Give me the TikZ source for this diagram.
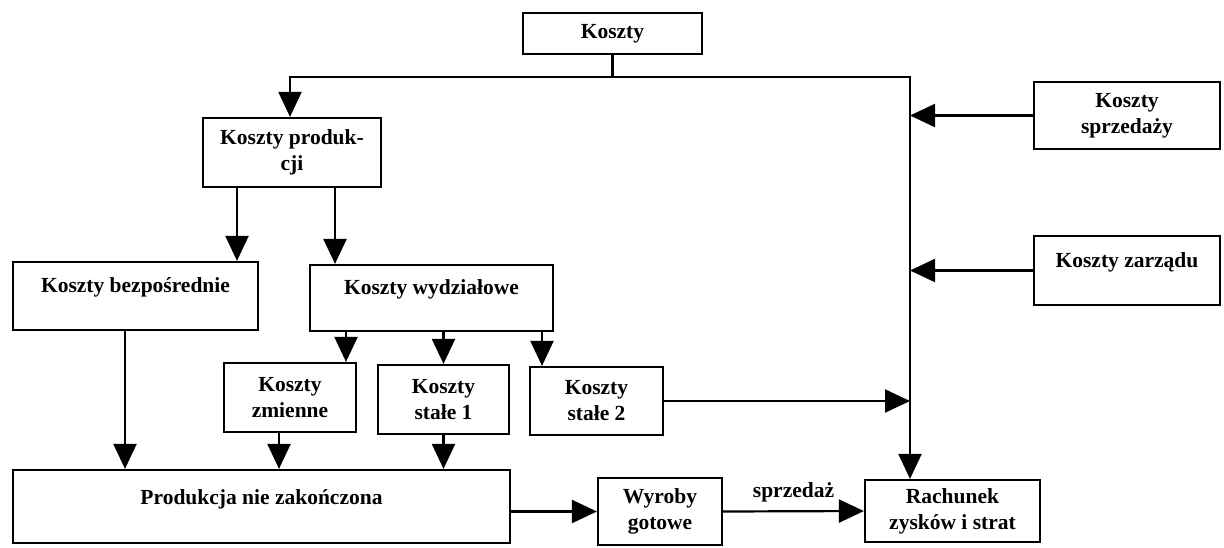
\documentclass[tikz,border=0pt]{standalone}
\usepackage{fontspec}
\setmainfont{Liberation Serif}
\usetikzlibrary{arrows.meta}
\newcommand{\liftt}[2]{\raisebox{#1}[15pt][5pt]{#2}}
\begin{document}
\begin{tikzpicture}[x=1pt,y=-1pt,
  box/.style={draw, line width=2.2pt, inner sep=2pt, align=center,
    font=\bfseries\fontsize{21.5}{26}\selectfont},
  lbl/.style={inner sep=0pt, font=\bfseries\fontsize{21.5}{26}\selectfont},
  conn/.style={line width=2.2pt},
  arr/.style={conn, -{Triangle[length=25pt,width=23pt]}}]
\useasboundingbox (0,0) rectangle (1224,547);
\fill[white] (0,0) rectangle (1224,547);

% boxes
\node[box, minimum width=179pt, minimum height=41pt] (koszty) at (612.5,33.5) {Koszty};
\node[box, minimum width=178pt, minimum height=69pt] (prod) at (292,152.5) {Koszty produk-\\cji};
\node[box, minimum width=186pt, minimum height=67pt] (sprz) at (1127,115.5) {Koszty\\sprzedaży};
\node[box, minimum width=186pt, minimum height=69pt] (zarz) at (1127,270.5) {\liftt{8.5pt}{Koszty zarządu}};
\node[box, minimum width=245pt, minimum height=68pt] (bezp) at (135.5,296) {\liftt{9pt}{Koszty bezpośrednie}};
\node[box, minimum width=243pt, minimum height=66pt] (wydz) at (431.5,298) {\liftt{9pt}{Koszty wydziałowe}};
\node[box, minimum width=132pt, minimum height=69pt] (zmienne) at (290,397.5) {Koszty\\zmienne};
\node[box, minimum width=131pt, minimum height=69pt] (stale1) at (443.5,399.5) {Koszty\\stałe 1};
\node[box, minimum width=133pt, minimum height=68pt] (stale2) at (596.5,401) {Koszty\\stałe 2};
\node[box, minimum width=497pt, minimum height=73pt] (prodnz) at (261.5,506.5) {\liftt{7.5pt}{Produkcja nie zakończona}};
\node[box, minimum width=124pt, minimum height=67pt] (wyroby) at (660,511.5) {Wyroby\\gotowe};
\node[box, minimum width=175pt, minimum height=62pt] (rach) at (952.5,511) {Rachunek\\zysków i strat};

% helper coordinates
\coordinate (busL) at (290,77);
\coordinate (busR) at (910,77);
\coordinate (xa) at (237,0);
\coordinate (xb) at (335,0);
\coordinate (xc) at (346,0);
\coordinate (xd) at (443.5,0);
\coordinate (xe) at (542,0);
\coordinate (xf) at (125,0);
\coordinate (xg) at (279,0);

% top bus
\draw[conn] (koszty.south) -- (koszty.south |- busL);
\draw[conn, line cap=rect] (busL) -- (busR);
\draw[arr] (busL) -- (busL |- prod.north);
\draw[arr] (busR) -- (busR |- rach.north);

% side inputs to the vertical line
\draw[arr] (sprz.west) -- (sprz.west -| busR);
\draw[arr] (zarz.west) -- (zarz.west -| busR);
\draw[arr] (stale2.east) -- (stale2.east -| busR);

% production costs
\draw[arr] (prod.south -| xa) -- (bezp.north -| xa);
\draw[arr] (prod.south -| xb) -- (wydz.north -| xb);

% departmental costs
\draw[arr] (wydz.south -| xc) -- (zmienne.north -| xc);
\draw[arr] (wydz.south -| xd) -- (stale1.north -| xd);
\draw[arr] (wydz.south -| xe) -- (stale2.north -| xe);

% into unfinished production
\draw[arr] (bezp.south -| xf) -- (prodnz.north -| xf);
\draw[arr] (zmienne.south -| xg) -- (prodnz.north -| xg);
\draw[arr] (stale1.south -| xd) -- (prodnz.north -| xd);

% bottom flow
\draw[arr] (prodnz.east |- wyroby.west) -- (wyroby.west);
\draw[arr] (wyroby.east) -- node[lbl, above=8pt] (sprzlbl) {sprzedaż} (rach.west);
\end{tikzpicture}
\end{document}
